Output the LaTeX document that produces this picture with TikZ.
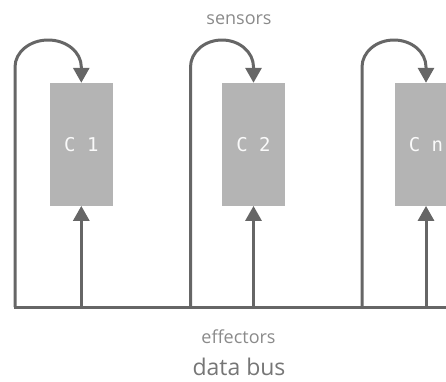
\documentclass[tikz,border=0pt]{standalone}
\usepackage{fontspec}
\setmainfont{Open Sans}
\newfontfamily\boxfont{DejaVu Sans Mono}
\usetikzlibrary{arrows.meta}
\definecolor{linegray}{HTML}{666666}
\definecolor{boxgray}{HTML}{B4B4B4}
\definecolor{textgray}{HTML}{8A8A8A}
\definecolor{busgray}{HTML}{767676}
\begin{document}
\begin{tikzpicture}[x=1pt,y=-1pt,
  comp/.style={fill=boxgray, draw=none, minimum width=62.7pt, minimum height=122.7pt,
    inner sep=0pt, font=\boxfont\fontsize{19}{19}\selectfont, text=white!94!boxgray},
  wire/.style={draw=linegray, line width=3pt},
  tip/.style={-{Triangle[length=15pt,width=16pt]}},
  lbl/.style={text=textgray, inner sep=0pt, anchor=base, font=\fontsize{18}{18}\selectfont},
  buslbl/.style={text=busgray, inner sep=0pt, anchor=base, font=\fontsize{23}{23}\selectfont}
]
\useasboundingbox (0,0) rectangle (446,381);
% components
\node[comp] (c1) at (81.3,144.35) {C 1};
\node[comp] (c2) at (253.5,144.35) {C 2};
\node[comp] (cn) at (426,144.35) {C n};
% bus
\coordinate (busL) at (13.5,307);
\coordinate (busR) at (450,307);
\draw[wire] (busL) -- (busR);
% loop start points on the bus
\coordinate (l1) at (15,307);
\coordinate (l2) at (190.5,307);
\coordinate (ln) at (362,307);
% sensor loops
\draw[wire,tip] (l1) -- (15,67) arc[start angle=180, end angle=0, x radius=33.15pt, y radius=27pt] -- (c1.north);
\draw[wire,tip] (l2) -- (190.5,67) arc[start angle=180, end angle=0, x radius=31.5pt, y radius=27pt] -- (c2.north);
\draw[wire,tip] (ln) -- (362,67) arc[start angle=180, end angle=0, x radius=32pt, y radius=27pt] -- (cn.north);
% effector arrows
\coordinate (b1) at (c1.south |- busL);
\coordinate (b2) at (c2.south |- busL);
\coordinate (bn) at (cn.south |- busL);
\draw[wire,tip] (b1) -- (c1.south);
\draw[wire,tip] (b2) -- (c2.south);
\draw[wire,tip] (bn) -- (cn.south);
% labels
\node[lbl] (sens) at (239,24) {sensors};
\node[lbl] (eff) at (238.5,343) {effectors};
\node[buslbl] (bus) at (239,375.5) {data bus};
\end{tikzpicture}
\end{document}
